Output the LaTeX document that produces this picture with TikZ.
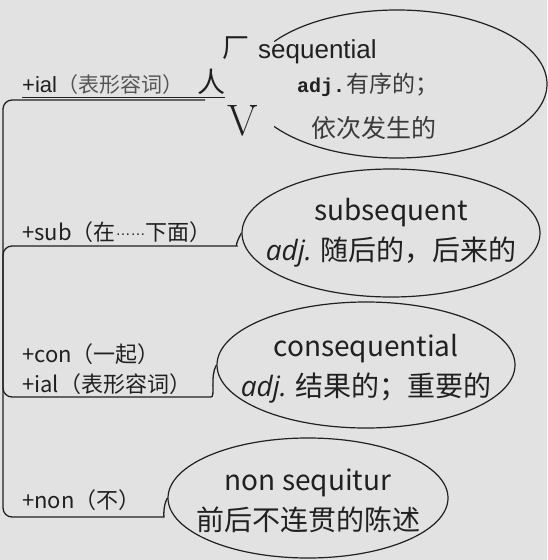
\documentclass[tikz,border=0pt]{standalone}
\usepackage{fontspec}
\usepackage{xcolor}
\usetikzlibrary{shapes.geometric}
\newfontfamily\cjk{Noto Sans CJK SC}
\newfontfamily\arialf{Liberation Sans}
\newfontfamily\monof{Liberation Mono}
\newfontfamily\italf{Open Sans}
\definecolor{bg}{HTML}{E2E2E2}
\definecolor{ink}{HTML}{202020}
\definecolor{dim}{HTML}{555555}
\newcommand{\adj}{{\italf\itshape adj.}}

\begin{document}
\begin{tikzpicture}[x=1pt, y=-1pt,
    branch/.style={draw=ink, line width=1.3pt, rounded corners=9pt},
    bubble/.style={ellipse, draw=ink, line width=1.2pt, inner sep=0pt},
    word/.style={inner sep=0pt, align=center, text=ink, font=\cjk\fontsize{28}{40}\selectfont},
    affix/.style={anchor=base west, inner sep=0pt, text=ink, font=\cjk\fontsize{22}{24}\selectfont},
    odd/.style={inner sep=0pt, text=ink}]
\fill[bg] (0,0) rectangle (547,560);
\useasboundingbox (0,0) rectangle (547,560);
\coordinate (root) at (3,300);

% sequential
\draw[draw=ink, line width=1.2pt] (397,84) ++(-145:150 and 74) arc[start angle=-145, end angle=145, x radius=150, y radius=74];
\node[anchor=west, odd, font=\arialf\fontsize{26}{28}\selectfont] (seq) at (258,52) {sequential};
\node[anchor=west, odd] (seqadj) at (297,85) {{\monof\bfseries\fontsize{20}{22}\selectfont adj.}\,{\cjk\color{dim!70!black}\fontsize{23}{24}\selectfont 有序的；}};
\node[anchor=west, odd, text=dim!70!black, font=\cjk\fontsize{25}{26}\selectfont] (seqzh) at (311,128) {依次发生的};
\node[odd, font=\cjk\fontsize{27}{28}\selectfont] (chang) at (236,48) {厂};
\node[odd, font=\cjk\fontsize{28}{28}\selectfont] (ren) at (211,82) {人};
\node[odd, font=\fontsize{44}{44}\selectfont] (vee) at (243,121) {V};
\node[affix] (ial) at (22,92) {{\arialf +ial}{\color{dim}\fontsize{21}{24}\selectfont （表形容词）}};
\draw[ink, line width=1pt] (ial.base west) ++(0,5) -- ++(203,0);
\coordinate (ialend) at (205,100);
\draw[branch] (root) |- (ialend);

% subsequent
\node[bubble, minimum width=298pt, minimum height=128pt] (sub) at (391,233) {};
\node[word] (subtxt) at (sub) {subsequent\\\adj{} 随后的，后来的};
\node[affix] (sublbl) at (22,240) {+sub（在\raisebox{5pt}{\arialf\fontsize{15}{15}\selectfont ……}下面）};
\coordinate (subend) at (228,246);
\draw[branch] (root) |- (subend) to[out=0, in=-120] (sub.west);

% consequential
\node[bubble, minimum width=298pt, minimum height=126pt] (con) at (366,365) {};
\node[word, yshift=-4pt] (contxt) at (con) {consequential\\\adj{} 结果的；重要的};
\node[affix] (conlbl) at (22,362) {+con（一起）};
\node[affix] (ial2) at (22,392) {+ial（表形容词）};
\coordinate (conend) at (202,397);
\draw[branch] (root) |- (conend) to[out=0, in=-120] (con.west);

% non sequitur
\node[bubble, minimum width=280pt, minimum height=120pt] (non) at (308,498) {};
\node[word, yshift=-3pt] (nontxt) at (non) {non sequitur\\前后不连贯的陈述};
\node[affix] (nonlbl) at (22,508) {+non（不）};
\coordinate (nonend) at (155,517);
\draw[branch] (root) |- (nonend) to[out=0, in=-120] (non.west);
\end{tikzpicture}
\end{document}
